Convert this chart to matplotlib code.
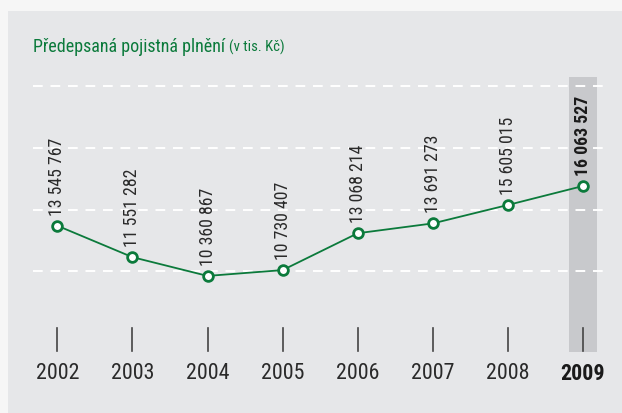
import matplotlib
matplotlib.use("Agg")
import matplotlib.pyplot as plt
from matplotlib import font_manager as fm
from matplotlib.patches import Rectangle
import matplotlib.transforms as mtransforms

years = ["2002", "2003", "2004", "2005", "2006", "2007", "2008", "2009"]
# marker heights (thousands CZK)
values = [13545767, 11551282, 10360867, 10730407, 13068214, 13691273, 14860000, 16063527]
# printed labels
value_labels = ["13 545 767", "11 551 282", "10 360 867", "10 730 407",
                "13 068 214", "13 691 273", "15 605 015", "16 063 527"]
grid_values = [10.69e6, 14.56e6, 18.47e6, 22.42e6]
title_main = "Předepsaná pojistná plnění"
title_unit = "(v tis. Kč)"
highlight_index = 7

names = {f.name for f in fm.fontManager.ttflist}
font = None
for cand in ["Roboto Condensed", "Liberation Sans Narrow", "Open Sans Condensed", "Roboto"]:
    if cand in names:
        font = cand
        break
if font is None:
    font = "DejaVu Sans"
plt.rcParams["font.family"] = [font, "DejaVu Sans"]

GREEN = "#0b7a3b"
TEXT = "#2a2a2a"
PANEL = "#e6e7e9"

W, H = 622, 414
fig = plt.figure(figsize=(W / 100, H / 100), dpi=100, facecolor="#f6f6f6")

ax = fig.add_axes([0, 0, 1, 1])
ax.set_facecolor("none")
for s in ax.spines.values():
    s.set_visible(False)
ax.set_xticks([])
ax.set_yticks([])

x = list(range(len(years)))
ax.set_xlim(-0.763, 7.519)
ax.set_ylim(1667187, 27923067)

# panel background
ax.add_patch(Rectangle((8 / W, 0), 1 - 8 / W, (H - 12) / H, transform=ax.transAxes,
                       facecolor=PANEL, edgecolor="none", zorder=0))

trans = mtransforms.blended_transform_factory(ax.transData, ax.transAxes)

# highlight column for 2009
ax.add_patch(Rectangle((highlight_index - 0.182, 0.148), 0.364, 0.663, transform=trans,
                       facecolor="#c8c9cc", edgecolor="none", zorder=1))

# dashed grid lines
for g in grid_values:
    ax.plot([-0.325, 7.335], [g, g], color="white", lw=1.4, dashes=(5, 4), zorder=2)

# tick marks and year labels
for i, yr in enumerate(years):
    ax.plot([i, i], [0.150, 0.205], transform=trans, color="#444444", lw=1.2, zorder=3)
    ax.text(i, 0.097, yr, transform=trans, ha="center", va="center",
            fontsize=15.8, color=TEXT if i != highlight_index else "#1a1a1a",
            fontweight="bold" if i == highlight_index else "normal", zorder=4)

# line
ax.plot(x, values, color=GREEN, lw=1.3, zorder=5, marker="o", markersize=7,
        markerfacecolor="white", markeredgecolor=GREEN, markeredgewidth=2)

# value labels
for i, (v, lab) in enumerate(zip(values, value_labels)):
    ax.annotate(lab, (i, v), xytext=(0, 8), textcoords="offset points",
                rotation=90, ha="center", va="bottom", fontsize=12.8,
                color=TEXT if i != highlight_index else "#1a1a1a",
                fontweight="bold" if i == highlight_index else "normal", zorder=6)

# title
t = fig.text(33 / W, 1 - 52 / H, title_main, ha="left", va="baseline",
             fontsize=13.0, color=GREEN)
fig.canvas.draw()
bb = t.get_window_extent()
fig.text((bb.x1 + 4) / W, 1 - 52 / H, title_unit, ha="left", va="baseline",
         fontsize=10.6, color=GREEN)

fig.savefig("out.png", dpi=100, facecolor=fig.get_facecolor())
